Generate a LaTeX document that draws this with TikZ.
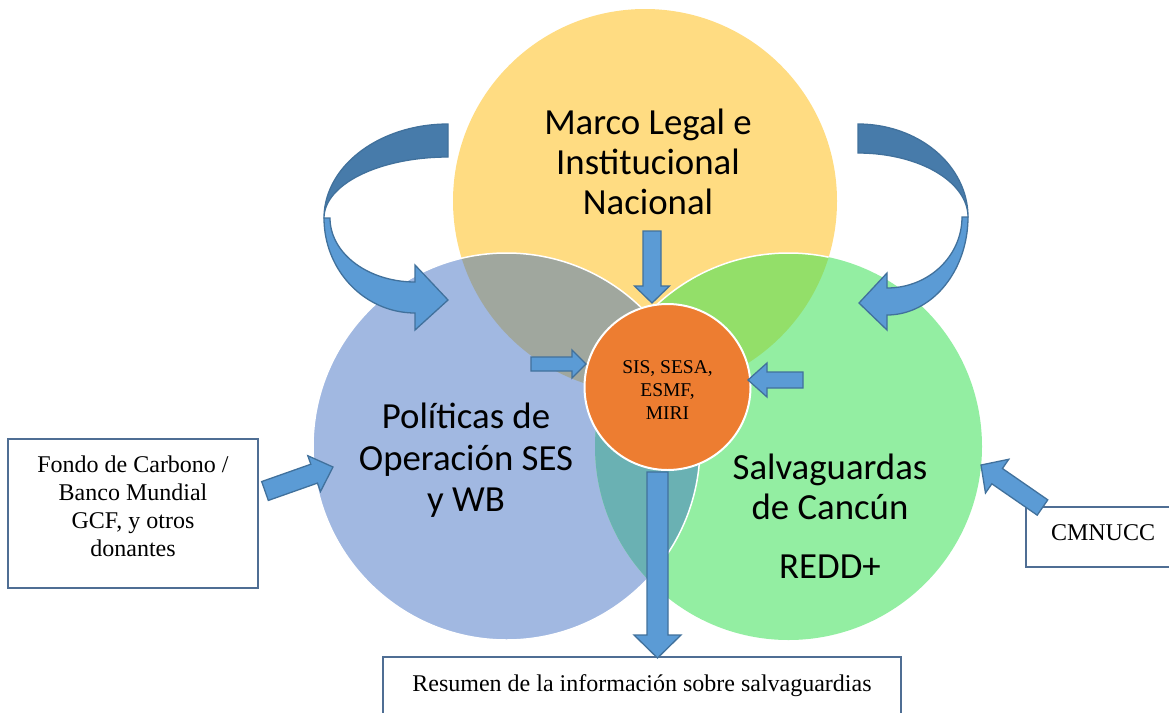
\documentclass[tikz,border=0pt]{standalone}
\usepackage{fontspec}
\setmainfont{Liberation Serif}
\newfontfamily\calib{Carlito}
\usetikzlibrary{calc}
\definecolor{cyel}{HTML}{FFDC82}
\definecolor{cblu}{HTML}{A1B8E1}
\definecolor{cgrn}{HTML}{93EEA2}
\definecolor{cgray}{HTML}{A0A79E}
\definecolor{clgrn}{HTML}{93DF69}
\definecolor{cteal}{HTML}{6AB1B3}
\definecolor{corange}{HTML}{ED7D31}
\definecolor{arrfill}{HTML}{5B9BD5}
\definecolor{arrline}{HTML}{41719C}
\definecolor{arrdark}{HTML}{477BAA}
\definecolor{boxline}{HTML}{4F6E94}
\tikzset{
  venn/.style={circle, inner sep=0pt, outer sep=0pt, minimum size=387pt},
  arrowbox/.style={fill=arrfill, draw=arrline, line width=1.3pt, line join=miter},
  darkrib/.style={fill=arrdark, draw=arrline, line width=1.3pt},
  infobox/.style={rectangle, draw=boxline, fill=white, line width=1.1pt, inner sep=0pt},
  bigtxt/.style={font=\calib\fontsize{36.8}{41}\selectfont, anchor=base, inner sep=0pt},
  sertxt/.style={font=\fontsize{24}{28}\selectfont, anchor=base, inner sep=0pt},
  coretxt/.style={font=\fontsize{19.5}{23}\selectfont, anchor=base, inner sep=0pt},
}
\newcommand{\blkarrow}[5]{%
  \coordinate (hb) at ($(#2)!#5!(#1)$);
  \draw[arrowbox] ($(#1)!#3!90:(#2)$) -- ($(hb)!#3!90:(#2)$) -- ($(hb)!#4!90:(#2)$) -- (#2)
    -- ($(hb)!#4!-90:(#2)$) -- ($(hb)!#3!-90:(#2)$) -- ($(#1)!#3!-90:(#2)$) -- cycle;}
\begin{document}
\begin{tikzpicture}[x=1pt,y=-1pt]
\useasboundingbox (0,0) rectangle (1169,712);
\clip (0,0) rectangle (1169,712);
% circles
\node[venn, fill=cyel, minimum size=384pt] (yel) at (645,201) {};
\node[venn, fill=cblu] (blu) at (506.5,446.5) {};
\node[venn, fill=cgrn] (grn) at (788.5,446.5) {};
\begin{scope}
  \clip (645,201) circle[radius=192pt];
  \fill[cgray] (506.5,446.5) circle[radius=193.5pt];
  \fill[clgrn] (788.5,446.5) circle[radius=193.5pt];
\end{scope}
\begin{scope}
  \clip (506.5,446.5) circle[radius=193.5pt];
  \fill[cteal] (788.5,446.5) circle[radius=193.5pt];
\end{scope}
\draw[white, line width=1.5pt] (506.5,446.5) circle[radius=193.5pt];
\begin{scope}
  \clip (645,201) circle[radius=192pt];
  \draw[white, line width=1.5pt] (788.5,446.5) circle[radius=193.5pt];
\end{scope}
% circle texts
\node[bigtxt] (m1) at (648,134) {Marco Legal e};
\node[bigtxt] (m2) at (648,174) {Institucional};
\node[bigtxt] (m3) at (648,214) {Nacional};
\node[bigtxt] (p1) at (466,428) {Políticas de};
\node[bigtxt] (p2) at (466,470) {Operación SES};
\node[bigtxt] (p3) at (466,511) {y WB};
\node[bigtxt] (s1) at (830,479) {Salvaguardas};
\node[bigtxt] (s2) at (830,519) {de Cancún};
\node[bigtxt] (s3) at (830,578) {REDD+};
% core
\node[circle, fill=corange, draw=white, line width=2pt, minimum size=166pt, inner sep=0pt] (core) at (667.5,387) {};
\node[coretxt] (c1) at (667.5,373.5) {SIS, SESA,};
\node[coretxt] (c2) at (667.5,396.5) {ESMF,};
\node[coretxt] (c3) at (667.5,419.5) {MIRI};
% small arrows into core
\coordinate (ta0) at (652,231); \coordinate (ta1) at (652,303);
\blkarrow{ta0}{ta1}{9pt}{17.5pt}{17pt}
\coordinate (la0) at (531,364); \coordinate (la1) at (586,364);
\blkarrow{la0}{la1}{7pt}{14pt}{14pt}
\coordinate (ra0) at (803,380); \coordinate (ra1) at (748,380);
\blkarrow{ra0}{ra1}{8pt}{17pt}{19pt}
% curved arrows
\draw[darkrib] plot[domain=-90:-180,samples=40] ({448+124*cos(\x)},{218+94*sin(\x)})
  -- plot[domain=180:270,samples=40] ({448+124*cos(\x)},{218+61*sin(\x)}) -- cycle;
\draw[arrowbox] plot[domain=180:90,samples=40] ({415+91*cos(\x)},{218+95*sin(\x)})
  -- (415,330) -- (448,300) -- (415,265)
  -- plot[domain=90:180,samples=40] ({415+85*cos(\x)},{218+64*sin(\x)}) -- cycle;
\draw[darkrib] plot[domain=-90:0,samples=40] ({858+110*cos(\x)},{217+93*sin(\x)})
  -- plot[domain=0:-90,samples=40] ({858+110*cos(\x)},{217+64*sin(\x)}) -- cycle;
\draw[arrowbox] plot[domain=0:90,samples=40] ({887+81*cos(\x)},{217+98*sin(\x)})
  -- (887,330) -- (859,303) -- (887,273)
  -- plot[domain=90:0,samples=40] ({887+75*cos(\x)},{217+71*sin(\x)}) -- cycle;
% boxes
\node[infobox, minimum width=250pt, minimum height=149pt] (fondo) at (133,513.5) {};
\node[sertxt] (f1) at (133,472) {Fondo de Carbono /};
\node[sertxt] (f2) at (133,500) {Banco Mundial};
\node[sertxt] (f3) at (133,528) {GCF, y otros};
\node[sertxt] (f4) at (133,556) {donantes};
\node[infobox, minimum width=170pt, minimum height=60pt] (cmnucc) at (1111,537) {};
\node[sertxt] (cm) at (1103,540) {CMNUCC};
\node[infobox, minimum width=518pt, minimum height=80pt] (resumen) at (642,697) {};
\node[sertxt] (rs) at (642,691) {Resumen de la información sobre salvaguardias};
% arrows from/to boxes
\coordinate (fa0) at (265,491); \coordinate (fa1) at (333,467);
\blkarrow{fa0}{fa1}{10pt}{19pt}{20pt}
\coordinate (ca0) at (1042.5,507.5); \coordinate (ca1) at (981,465);
\blkarrow{ca0}{ca1}{9.3pt}{20.5pt}{19.6pt}
\coordinate (ba0) at (657.5,472); \coordinate (ba1) at (657.5,658);
\blkarrow{ba0}{ba1}{10.5pt}{23.5pt}{23pt}
\end{tikzpicture}
\end{document}
